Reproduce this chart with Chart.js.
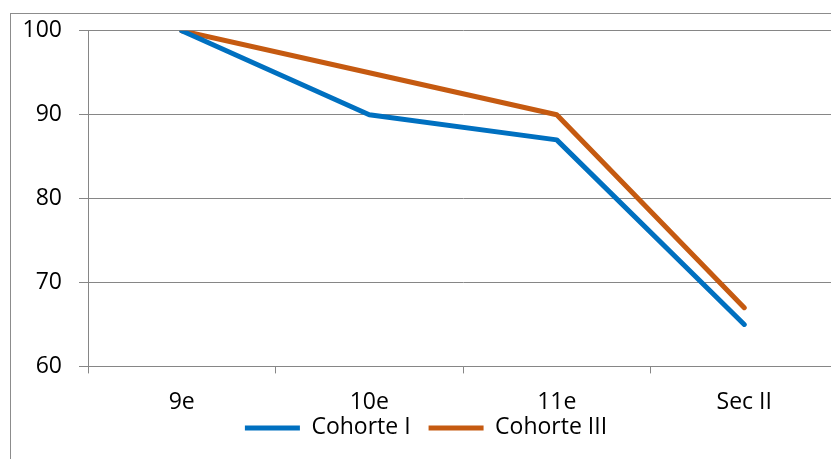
<!DOCTYPE html>
<html>
<head>
<meta charset="utf-8">
<script src="https://cdn.jsdelivr.net/npm/chart.js@4/dist/chart.umd.min.js"></script>
<style>
  html, body { margin: 0; padding: 0; background: #fff; overflow: hidden; }
  #frame { position: absolute; left: 10px; top: 13px; width: 900px; height: 600px; border: 1px solid #8c8c8c; box-sizing: border-box; }
  #chart { position: absolute; left: 0; top: 0; }
</style>
</head>
<body>
<div id="frame"></div>
<canvas id="chart" width="850" height="482"></canvas>
<script>
const categories = ['9e', '10e', '11e', 'Sec II'];
const cohorteI = [100, 90, 87, 65];
const cohorteIII = [100, 95, 90, 67];
const seriesNames = ['Cohorte I', 'Cohorte III'];

const gridColor = '#868686';
const font = { family: '"Open Sans", sans-serif', size: 23 };

// pull the legend up so it sits just under the category labels, like Excel does
const legendNudge = {
  id: 'legendNudge',
  afterLayout(chart) {
    const lg = chart.legend;
    const shift = lg.top - (chart.chartArea.bottom + 32);
    lg.top -= shift;
    lg.bottom -= shift;
    lg.left += 2;
    lg.right += 2;
  }
};

const ctx = document.getElementById('chart').getContext('2d');
new Chart(ctx, {
  type: 'line',
  data: {
    labels: categories,
    datasets: [{
      label: seriesNames[0],
      data: cohorteI,
      borderColor: '#0070C0',
      backgroundColor: '#0070C0',
      borderWidth: 5,
      borderCapStyle: 'round',
      borderJoinStyle: 'round',
      pointRadius: 0,
      tension: 0
    }, {
      label: seriesNames[1],
      data: cohorteIII,
      borderColor: '#C55A11',
      backgroundColor: '#C55A11',
      borderWidth: 5,
      borderCapStyle: 'round',
      borderJoinStyle: 'round',
      pointRadius: 0,
      tension: 0
    }]
  },
  plugins: [legendNudge],
  options: {
    responsive: false,
    animation: false,
    layout: { padding: { left: 10, right: 12, top: 29, bottom: 0 } },
    plugins: {
      tooltip: { enabled: false },
      legend: {
        position: 'bottom',
        labels: {
          usePointStyle: true,
          pointStyle: 'line',
          pointStyleWidth: 55,
          padding: 18,
          color: '#000',
          font: font
        }
      }
    },
    scales: {
      x: {
        offset: true,
        grid: { offset: true, drawOnChartArea: false, drawTicks: true, tickLength: 7, color: gridColor },
        border: { display: true, color: gridColor },
        ticks: { color: '#000', font: font, padding: 15, maxRotation: 0 }
      },
      y: {
        min: 60,
        max: 100,
        grid: { color: gridColor, tickLength: 9 },
        border: { display: true, color: gridColor },
        ticks: { stepSize: 10, color: '#000', font: font, padding: 17 },
        afterFit: function (axis) { axis.width = 78; }
      }
    }
  }
});
</script>
</body>
</html>
